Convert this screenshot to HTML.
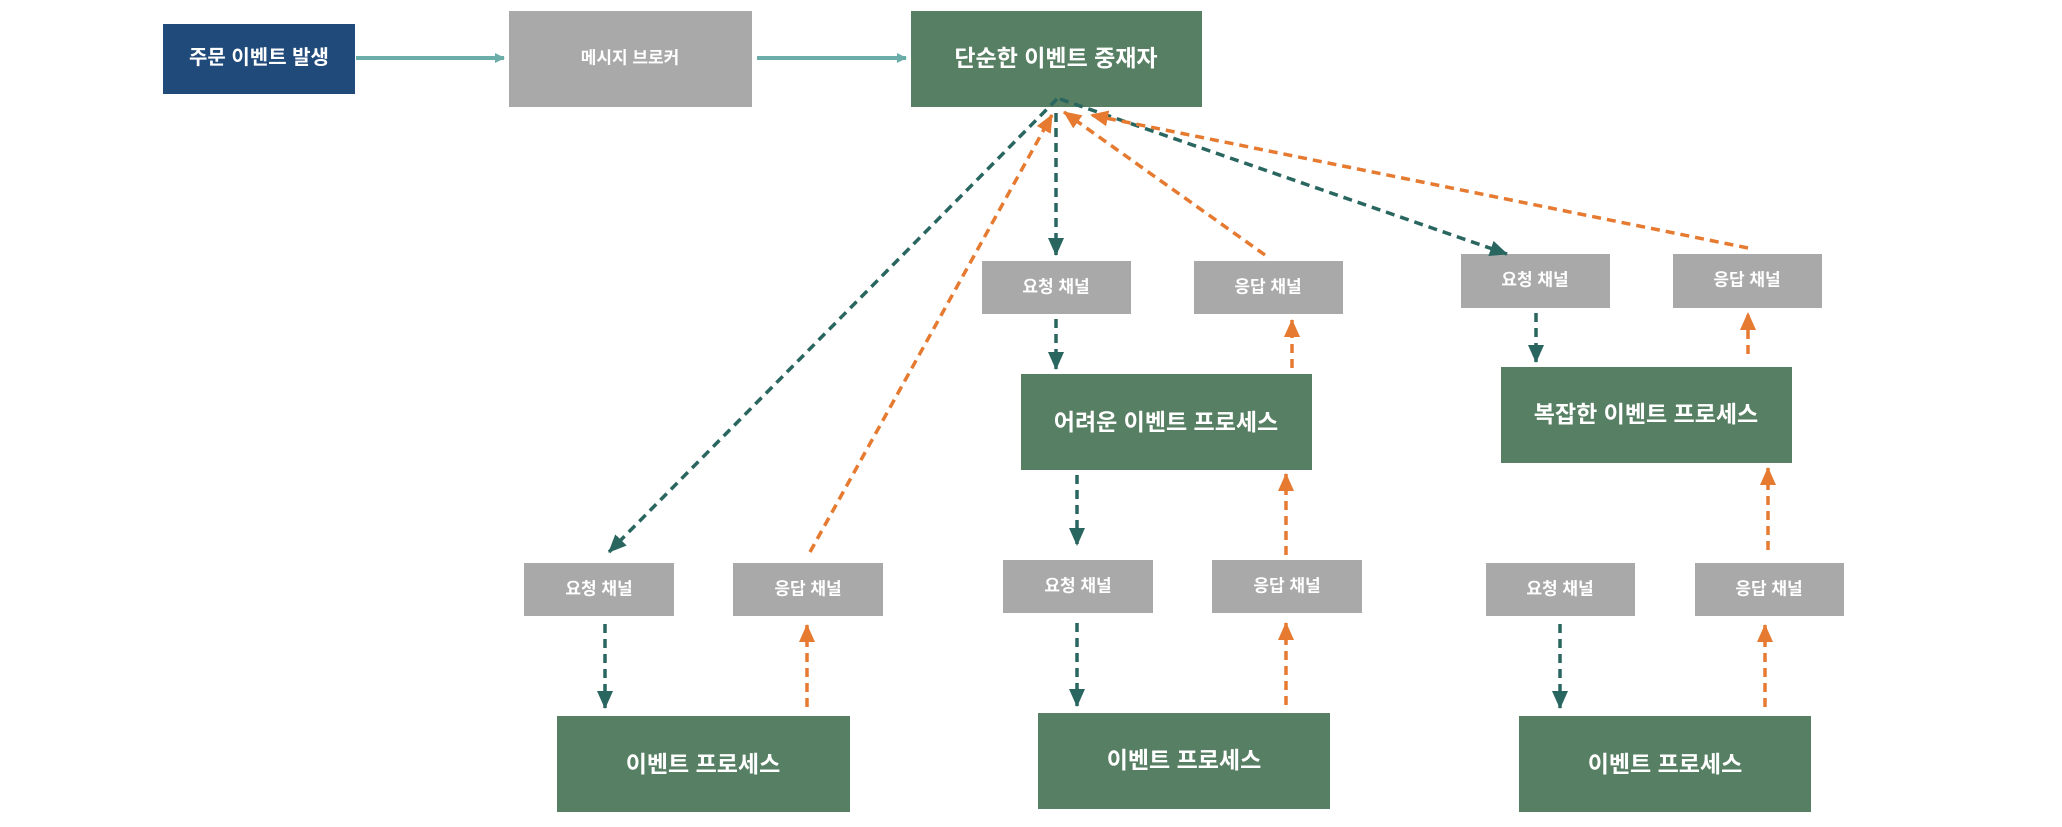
<!DOCTYPE html>
<html><head><meta charset="utf-8"><style>
html,body{margin:0;padding:0;background:#fff;}
svg text{font-family:"Liberation Sans","Noto Sans CJK KR",sans-serif;font-weight:bold;fill:#fff;text-anchor:middle;dominant-baseline:central;}
</style></head><body>
<svg width="2062" height="822" viewBox="0 0 2062 822" xmlns="http://www.w3.org/2000/svg">
<defs>
<marker id="tl" markerWidth="10" markerHeight="10" refX="9" refY="5" orient="auto" markerUnits="userSpaceOnUse" viewBox="0 0 10 10"><path d="M0,0 L10,5 L0,10 z" fill="#6aada9"/></marker>
<marker id="tg" markerWidth="18" markerHeight="16" refX="17" refY="8" orient="auto" markerUnits="userSpaceOnUse" viewBox="0 0 18 16"><path d="M0,0 L18,8 L0,16 z" fill="#2a6660"/></marker>
<marker id="or" markerWidth="18" markerHeight="16" refX="17" refY="8" orient="auto" markerUnits="userSpaceOnUse" viewBox="0 0 18 16"><path d="M0,0 L18,8 L0,16 z" fill="#e57a30"/></marker>
</defs>
<g fill="#a9a9a9">
<rect x="509" y="11" width="243" height="96"/>
<rect x="982" y="261" width="149" height="53"/><rect x="1194" y="261" width="149" height="53"/>
<rect x="1461" y="254" width="149" height="54"/><rect x="1673" y="254" width="149" height="54"/>
<rect x="524" y="563" width="150" height="53"/><rect x="733" y="563" width="150" height="53"/>
<rect x="1003" y="560" width="150" height="53"/><rect x="1212" y="560" width="150" height="53"/>
<rect x="1486" y="563" width="149" height="53"/><rect x="1695" y="563" width="149" height="53"/>
</g>
<rect x="163" y="24" width="192" height="70" fill="#1f4a7a"/>
<g fill="#577f63">
<rect x="911" y="11" width="291" height="96"/>
<rect x="1021" y="374" width="291" height="96"/>
<rect x="1501" y="367" width="291" height="96"/>
<rect x="557" y="716" width="293" height="96"/>
<rect x="1038" y="713" width="292" height="96"/>
<rect x="1519" y="716" width="292" height="96"/>
</g>
<g stroke="#6aada9" stroke-width="4">
<line x1="356" y1="58" x2="504" y2="58" marker-end="url(#tl)"/>
<line x1="757" y1="58" x2="906" y2="58" marker-end="url(#tl)"/>
</g>
<g fill="none" stroke-width="3.5" stroke-dasharray="9,6">
<g stroke="#2a6660">
<line x1="1057" y1="99" x2="609" y2="552" marker-end="url(#tg)"/>
<line x1="1056" y1="113" x2="1056" y2="255" marker-end="url(#tg)"/>
<line x1="1060" y1="99" x2="1507" y2="254" marker-end="url(#tg)"/>
<line x1="1056" y1="319" x2="1056" y2="369" marker-end="url(#tg)"/>
<line x1="1536" y1="313" x2="1536" y2="362" marker-end="url(#tg)"/>
<line x1="1077" y1="475" x2="1077" y2="545" marker-end="url(#tg)"/>
<line x1="605" y1="624" x2="605" y2="708" marker-end="url(#tg)"/>
<line x1="1077" y1="623" x2="1077" y2="706" marker-end="url(#tg)"/>
<line x1="1560" y1="624" x2="1560" y2="708" marker-end="url(#tg)"/>
</g>
<g stroke="#e57a30">
<line x1="810" y1="552" x2="1052" y2="115" marker-end="url(#or)"/>
<line x1="1265" y1="255" x2="1064" y2="112" marker-end="url(#or)"/>
<line x1="1748" y1="248" x2="1091" y2="115" marker-end="url(#or)"/>
<line x1="1292" y1="368" x2="1292" y2="320" marker-end="url(#or)"/>
<line x1="1748" y1="354" x2="1748" y2="313" marker-end="url(#or)"/>
<line x1="1286" y1="555" x2="1286" y2="474" marker-end="url(#or)"/>
<line x1="1768" y1="550" x2="1768" y2="468" marker-end="url(#or)"/>
<line x1="807" y1="707" x2="807" y2="625" marker-end="url(#or)"/>
<line x1="1286" y1="705" x2="1286" y2="623" marker-end="url(#or)"/>
<line x1="1765" y1="707" x2="1765" y2="625" marker-end="url(#or)"/>
</g>
</g>
<text x="259" y="58" font-size="20">주문 이벤트 발생</text>
<text x="630" y="58" font-size="17">메시지 브로커</text>
<text x="1056" y="58" font-size="23">단순한 이벤트 중재자</text>
<g font-size="17">
<text x="1056" y="287">요청 채널</text><text x="1268" y="287">응답 채널</text>
<text x="1535" y="280">요청 채널</text><text x="1747" y="280">응답 채널</text>
<text x="599" y="589">요청 채널</text><text x="808" y="589">응답 채널</text>
<text x="1078" y="586">요청 채널</text><text x="1287" y="586">응답 채널</text>
<text x="1560" y="589">요청 채널</text><text x="1769" y="589">응답 채널</text>
</g>
<g font-size="23">
<text x="1166" y="422">어려운 이벤트 프로세스</text>
<text x="1646" y="414">복잡한 이벤트 프로세스</text>
<text x="703" y="764">이벤트 프로세스</text>
<text x="1184" y="760">이벤트 프로세스</text>
<text x="1665" y="764">이벤트 프로세스</text>
</g>
</svg>
</body></html>
